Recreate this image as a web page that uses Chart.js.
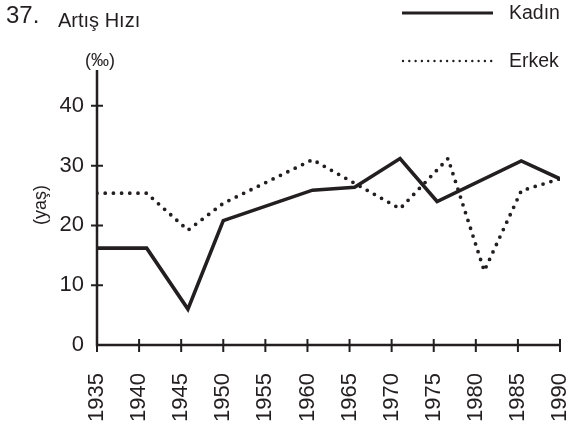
<!DOCTYPE html>
<html lang="tr">
<head>
<meta charset="UTF-8" />
<title>Artış Hızı</title>
<script src="https://cdn.jsdelivr.net/npm/chart.js"></script>
<style>
  html, body { margin: 0; padding: 0; background: #fff; }
  #wrap { width: 574px; height: 421px; }
</style>
</head>
<body>
<div id="wrap"><canvas id="chart" width="574" height="421"></canvas></div>
<script>
// data
const xTicks = [1935, 1940, 1945, 1950, 1955, 1960, 1965, 1970, 1975, 1980, 1985, 1990];
const yTicks = [0, 10, 20, 30, 40];

const kadinYears  = [1935, 1940.9, 1945.8, 1950, 1960.6, 1965.6, 1971, 1975.4, 1985.4, 1990];
const kadinValues = [16.2, 16.2, 6.0, 20.8, 25.9, 26.4, 31.2, 24.0, 30.8, 27.8];

const erkekYears  = [1935, 1940.9, 1945.8, 1950, 1960.6, 1971, 1976.7, 1981, 1985.4, 1990];
const erkekValues = [25.4, 25.4, 19.2, 23.7, 31.0, 22.8, 31.2, 12.4, 25.8, 27.8];

const FONT = "'Liberation Sans', Arial, sans-serif";
const INK = '#231f20';

const toPoints = (xs, ys) => xs.map((x, i) => ({ x: x, y: ys[i] }));

// axes with ticks crossing the line, titles and legend
const decorations = {
  id: 'decorations',
  afterDraw(chart) {
    const { ctx, scales: { x, y } } = chart;
    const x0 = x.getPixelForValue(1935);
    const y0 = y.getPixelForValue(0);
    ctx.save();
    ctx.strokeStyle = INK;
    ctx.lineWidth = 2.5;
    ctx.beginPath();
    ctx.moveTo(x0, y.top);
    ctx.lineTo(x0, y0);
    ctx.lineTo(x.getPixelForValue(1990), y0);
    ctx.stroke();

    ctx.lineWidth = 2;
    ctx.beginPath();
    yTicks.slice(1).forEach(v => {
      const py = y.getPixelForValue(v);
      ctx.moveTo(x0 - 6, py);
      ctx.lineTo(x0 + 6, py);
    });
    xTicks.forEach(v => {
      const px = x.getPixelForValue(v);
      ctx.moveTo(px, y0 - 6);
      ctx.lineTo(px, y0 + 7);
    });
    ctx.stroke();

    // texts
    ctx.fillStyle = INK;
    ctx.textBaseline = 'alphabetic';
    ctx.textAlign = 'left';
    ctx.font = '24px ' + FONT;
    ctx.fillText('37.', 6, 23);
    ctx.font = '20px ' + FONT;
    ctx.fillText('Artış Hızı', 58, 27);
    ctx.font = '18px ' + FONT;
    ctx.textAlign = 'center';
    ctx.fillText('(‰)', 100, 66);

    ctx.save();
    ctx.translate(46, 205);
    ctx.rotate(-Math.PI / 2);
    ctx.textAlign = 'center';
    ctx.font = '18px ' + FONT;
    ctx.fillText('(yaş)', 0, 0);
    ctx.restore();

    // legend
    ctx.textAlign = 'left';
    ctx.textBaseline = 'middle';
    ctx.font = '19.5px ' + FONT;
    ctx.lineWidth = 3;
    ctx.beginPath();
    ctx.moveTo(402, 13);
    ctx.lineTo(493, 13);
    ctx.stroke();
    ctx.fillText('Kadın', 509, 14);

    ctx.lineWidth = 2.4;
    ctx.lineCap = 'round';
    ctx.setLineDash([0, 6.3]);
    ctx.beginPath();
    ctx.moveTo(403, 61);
    ctx.lineTo(493, 61);
    ctx.stroke();
    ctx.setLineDash([]);
    ctx.fillText('Erkek', 509, 62);
    ctx.restore();
  }
};

new Chart(document.getElementById('chart'), {
  type: 'line',
  data: {
    datasets: [
      {
        label: 'Kadın',
        data: toPoints(kadinYears, kadinValues),
        borderColor: INK,
        borderWidth: 3.6,
        borderJoinStyle: 'miter',
        pointRadius: 0,
        tension: 0,
        fill: false
      },
      {
        label: 'Erkek',
        data: toPoints(erkekYears, erkekValues),
        borderColor: INK,
        borderWidth: 3.8,
        borderDash: [0, 8.2],
        borderCapStyle: 'round',
        pointRadius: 0,
        tension: 0,
        fill: false
      }
    ]
  },
  options: {
    responsive: false,
    animation: false,
    events: [],
    layout: { padding: { top: 70, right: 14, left: 0, bottom: 0 } },
    plugins: { legend: { display: false }, tooltip: { enabled: false } },
    scales: {
      x: {
        type: 'linear',
        min: 1935,
        max: 1990,
        grid: { display: false },
        border: { display: false },
        afterBuildTicks: s => { s.ticks = xTicks.map(v => ({ value: v })); },
        afterFit: s => { s.height = 76; s.paddingLeft = 0; s.paddingRight = 0; },
        ticks: {
          autoSkip: false,
          minRotation: 90,
          maxRotation: 90,
          padding: 20,
          color: INK,
          font: { family: FONT, size: 22 },
          callback: v => String(v)
        }
      },
      y: {
        min: 0,
        max: 46,
        grid: { display: false },
        border: { display: false },
        afterBuildTicks: s => { s.ticks = yTicks.map(v => ({ value: v })); },
        afterFit: s => { s.width = 97; s.paddingTop = 0; s.paddingBottom = 0; },
        ticks: {
          padding: 5,
          color: INK,
          font: { family: FONT, size: 22 },
          callback: v => String(v)
        }
      }
    }
  },
  plugins: [decorations]
});
</script>
</body>
</html>
